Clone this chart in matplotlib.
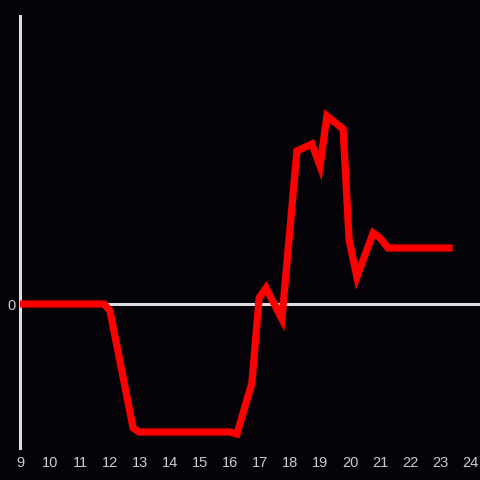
import matplotlib
matplotlib.use("Agg")
import matplotlib.pyplot as plt

BG = "#050308"
AXIS = "#dddddd"
LINE = "#ff0000"

hours = [9.0, 11.8, 12.0, 12.77, 12.97, 16.0, 16.23, 16.73, 16.97, 17.2,
         17.73, 18.23, 18.73, 19.0, 19.23, 19.77, 19.97, 20.23, 20.77, 21.0,
         21.27, 23.3]
values = [0, 0, -7, -124, -128, -128, -130, -79, 6, 16,
          -15, 153, 160, 138, 188, 175, 64, 27, 71, 66,
          56, 56]
x_ticks = list(range(9, 25))

fig = plt.figure(figsize=(4.8, 4.8), dpi=100, facecolor=BG)
ax = fig.add_axes([20 / 480, 32 / 480, 460 / 480, 432 / 480])
ax.set_facecolor(BG)

ax.axhline(0, color=AXIS, lw=2.2, zorder=1)
ax.plot(hours, values, color=LINE, lw=5.2, solid_joinstyle="miter", zorder=3)

ax.set_xlim(9, 24.333)
ax.set_ylim(-144, 288)
ax.set_xticks(x_ticks)
ax.set_xticklabels([str(t) for t in x_ticks])
ax.set_yticks([0])
ax.set_yticklabels(["0"])
ax.tick_params(colors=AXIS, length=0, labelsize=10.5, pad=6)
for label in ax.get_xticklabels() + ax.get_yticklabels():
    label.set_color("#cccccc")
    label.set_family("Liberation Sans")
ax.tick_params(axis="y", pad=3)

for side in ["top", "right", "bottom"]:
    ax.spines[side].set_visible(False)
ax.spines["left"].set_color(AXIS)
ax.spines["left"].set_linewidth(2.2)

fig.savefig("out.png", dpi=100, facecolor=BG)
